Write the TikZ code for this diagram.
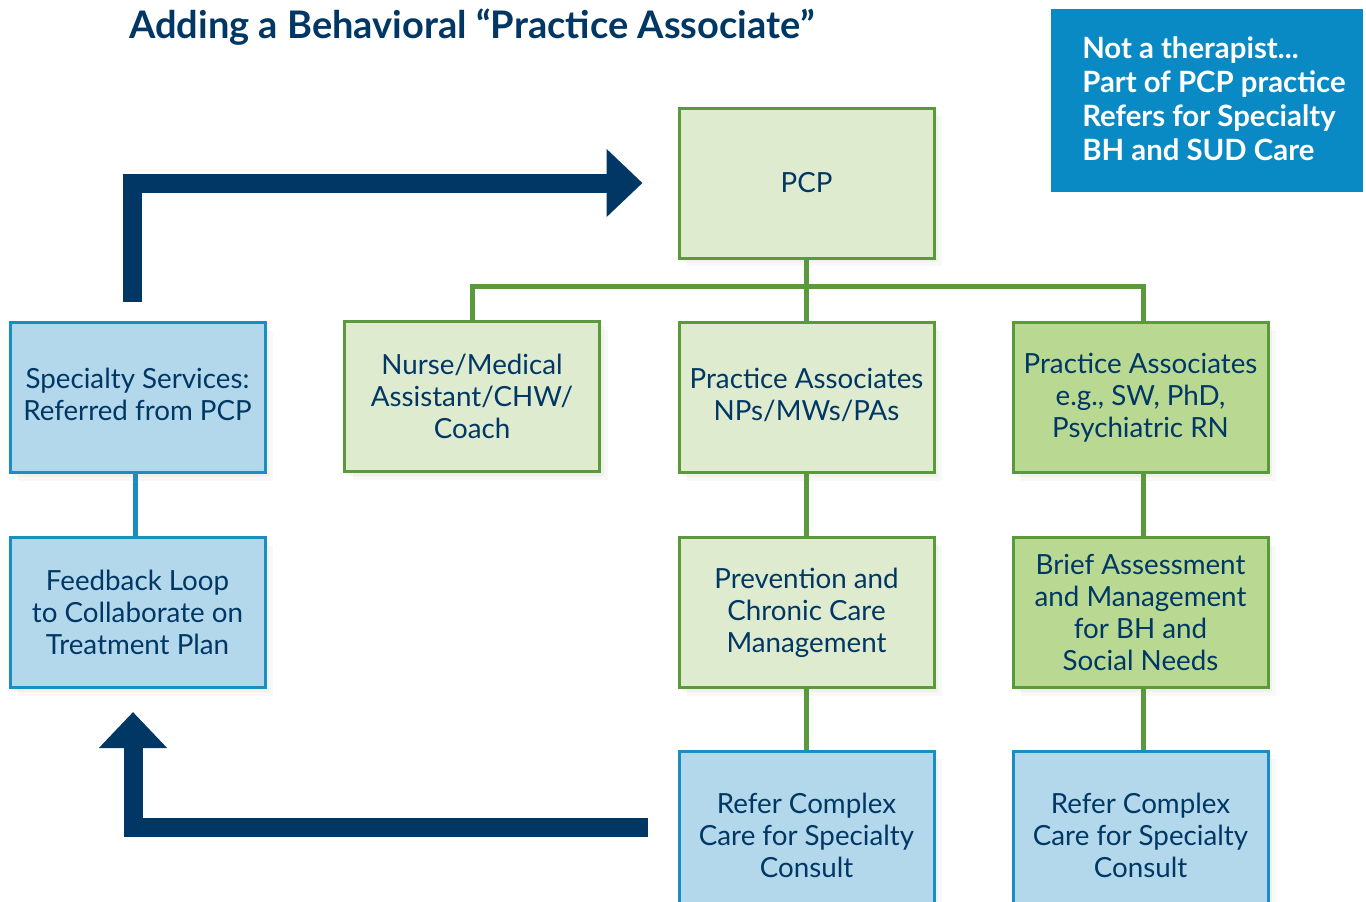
\documentclass[tikz,border=0pt]{standalone}
\usepackage{fontspec}
\setmainfont{Lato}
\usetikzlibrary{arrows.meta,calc,shadows}
\pgfdeclarelayer{background}
\pgfsetlayers{background,main}

\definecolor{navy}{HTML}{003764}
\definecolor{grnline}{HTML}{5A9A3A}
\definecolor{grnlight}{HTML}{DEEBCF}
\definecolor{grndark}{HTML}{B9D993}
\definecolor{bluefill}{HTML}{B3D8EB}
\definecolor{blueline}{HTML}{1A8DC1}
\definecolor{notebl}{HTML}{0A8AC4}
\definecolor{shade}{HTML}{6E8A5A}

\begin{document}
\begin{tikzpicture}[x=0.75pt,y=-0.75pt,
  softshadow/.style={
    general shadow={fill=shade, opacity=.05, shadow xshift=6pt, shadow yshift=-6pt},
    general shadow={fill=shade, opacity=.07, shadow xshift=3pt, shadow yshift=-3pt}},
  box/.style={rectangle, softshadow, line width=2.25pt, minimum width=191.25pt,
    minimum height=112.5pt, align=center, text=navy,
    font=\fontsize{20.8}{24}\selectfont, inner sep=2pt},
  gbox/.style={box, draw=grnline, fill=grnlight},
  dgbox/.style={box, draw=grnline, fill=grndark},
  bbox/.style={box, draw=blueline, fill=bluefill},
  gline/.style={draw=grnline, line width=3.75pt, line join=miter},
  bline/.style={draw=blueline, line width=3.75pt},
  bigarrow/.style={draw=navy, line width=14.25pt, line join=miter,
    -{Triangle[length=27pt,width=49.5pt]}}]

\useasboundingbox (0,0) rectangle (1366,901);
\clip (0,0) rectangle (1366,901);

% title
\node (title) [anchor=base west, inner sep=0, text=navy,
  font=\fontsize{28.5}{34}\selectfont\bfseries] at (129,38)
  {Adding a Behavioral “Practice Associate”};

% note box
\node (note) [anchor=north west, fill=notebl, minimum width=234pt,
  minimum height=137.25pt, inner sep=0] at (1051,9) {};
\node (notetext) [anchor=west, inner sep=0, align=left, text=white,
  font=\fontsize{22}{25.3}\selectfont\bfseries] at ($(note.west)+(31,-2)$)
  {Not a therapist...\\Part of PCP practice\\Refers for Specialty\\BH and SUD Care};

% boxes
\node (pcp)   [gbox]  at (806.5,183)  {PCP};
\node (nurse) [gbox]  at (472,396.5)  {Nurse/Medical\\Assistant/CHW/\\Coach};
\node (pa1)   [gbox]  at (806.5,397.5){Practice Associates\\NPs/MWs/PAs\\[-18.5pt]};
\node (pa2)   [dgbox] at (1140.5,397.5){Practice Associates\\e.g., SW, PhD,\\Psychiatric RN};
\node (spec)  [bbox]  at (137.5,397.5){Specialty Services:\\Referred from PCP\\[-18.5pt]};
\node (fb)    [bbox]  at (137.5,612.5){Feedback Loop\\to Collaborate on\\Treatment Plan};
\node (prev)  [gbox]  at (806.5,612.5){Prevention and\\Chronic Care\\Management};
\node (brief) [dgbox] at (1140.5,612.5){Brief Assessment\\and Management\\for BH and\\Social Needs};
\node (ref1)  [bbox, minimum height=126pt] at (806.5,835){Refer Complex\\Care for Specialty\\Consult};
\node (ref2)  [bbox, minimum height=126pt] at (1140.5,835){Refer Complex\\Care for Specialty\\Consult};

% connectors
\coordinate (bus) at (806.5,286);
\coordinate (up0) at (132.5,302);
\coordinate (dn1) at (133,712);
\begin{pgfonlayer}{background}
  \draw[gline] (pcp.south) -- (pa1.north);
  \draw[gline] (nurse.north) |- (bus) -| ($(pa2.north)+(2.5,0)$);
  \draw[gline] (pa1.south) -- (prev.north);
  \draw[gline] (prev.south) -- (ref1.north);
  \draw[gline] ($(pa2.south)+(2.5,0)$) -- ($(brief.north)+(2.5,0)$);
  \draw[gline] ($(brief.south)+(2.5,0)$) -- ($(ref2.north)+(2.5,0)$);
  \draw[bline] ($(spec.south)+(-2,0)$) -- ($(fb.north)+(-2,0)$);
\end{pgfonlayer}

% loop arrows
\draw[bigarrow] (up0) |- ($(pcp.west)+(-35,0)$);
\draw[bigarrow] ($(ref1.west)+(-30,-8)$) -| (dn1);
\end{tikzpicture}
\end{document}
